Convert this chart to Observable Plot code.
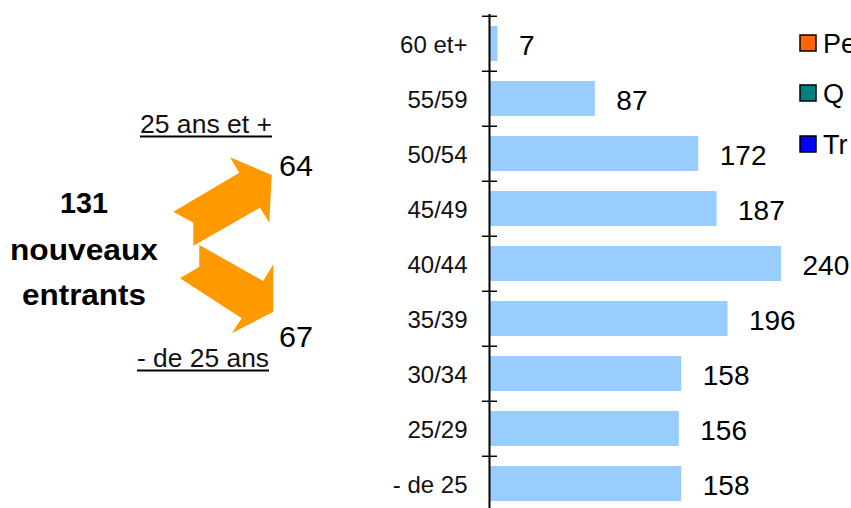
<!DOCTYPE html>
<html>
<head>
<meta charset="utf-8">
<script src="https://cdn.jsdelivr.net/npm/d3@7"></script>
<script src="https://cdn.jsdelivr.net/npm/@observablehq/plot@0.6"></script>
<style>
  html, body { margin: 0; padding: 0; background: #fff; overflow: hidden; }
  #wrap { position: relative; width: 851px; height: 508px; font-family: "Liberation Sans", Arial, sans-serif; }
  #wrap > svg { position: absolute; left: 0; top: 0; }
</style>
</head>
<body>
<div id="wrap"></div>
<script>
// ---- data ----
const categories = ["60 et+", "55/59", "50/54", "45/49", "40/44", "35/39", "30/34", "25/29", "- de 25"];
const values = [7, 87, 172, 187, 240, 196, 158, 156, 158];
const legendLabels = ["Pe", "Q", "Tr"];
const legendColors = ["#FF6600", "#008080", "#0000FF"];
const totalLabel = ["131", "nouveaux", "entrants"];
const splitLabels = ["25 ans et +", "- de 25 ans"];
const splitValues = [64, 67];

const data = categories.map((c, i) => ({cat: c, value: values[i]}));

const step = 499 / 9;

const chart = Plot.plot({
  width: 851,
  height: 508,
  marginLeft: 489,
  marginRight: 0,
  marginTop: 14,
  marginBottom: 0,
  style: {fontFamily: "'Liberation Sans', Arial, sans-serif", background: "transparent", overflow: "visible"},
  x: {domain: [0, 240], range: [489, 781], axis: null},
  y: {domain: categories, range: [14, 513], paddingInner: 0.37, paddingOuter: 0.185, align: 0.5, axis: null},
  marks: [
    Plot.barX(data, {x: "value", y: "cat", fill: "#99CCFF"}),
    Plot.ruleX([0], {stroke: "black", strokeWidth: 2}),
    Plot.ruleY(categories, {y: d => d, x1: -5.8, x2: 6.6, dy: -step / 2, stroke: "black", strokeWidth: 1.5}),
    Plot.text(categories, {y: d => d, x: () => 0, text: d => d, dx: -22, dy: 1, textAnchor: "end", fontSize: 24, fill: "#111"}),
    Plot.text(data, {x: "value", y: "cat", text: d => String(d.value), dx: 21, dy: 2, textAnchor: "start", fontSize: 28, fill: "#000"})
  ]
});
document.getElementById("wrap").appendChild(chart);

// ---- annotation overlay (left block + legend) ----
const svg = d3.select("#wrap").append("svg")
  .attr("width", 851).attr("height", 508)
  .style("font-family", "'Liberation Sans', Arial, sans-serif");

const arrowUp = [[173.3,211.7],[239.3,172.7],[230,157.3],[271.7,175],[269.3,222.7],[260,207.7],[193.3,245.7],[193.3,222.7]];
const arrowDown = [[199.3,245],[263.3,281],[273.3,264.3],[273.3,311.7],[231.7,333.3],[241.7,318.3],[180,278.3],[199.3,266.7]];
[arrowUp, arrowDown].forEach(p => {
  svg.append("polygon").attr("points", p.map(q => q.join(",")).join(" ")).attr("fill", "#FF9900");
});

// total label (bold)
const totalY = [213, 260, 305];
const totalLen = [48, 148, 124];
totalLabel.forEach((t, i) => {
  svg.append("text").attr("x", 84).attr("y", totalY[i]).attr("text-anchor", "middle")
    .attr("font-weight", "bold").attr("font-size", 29)
    .attr("textLength", totalLen[i]).attr("lengthAdjust", "spacingAndGlyphs")
    .text(t);
});

// split labels (underlined)
const splitPos = [{x: 140, y: 133, len: 132}, {x: 137, y: 367, len: 132}];
splitLabels.forEach((t, i) => {
  const p = splitPos[i];
  svg.append("text").attr("x", p.x).attr("y", p.y).attr("font-size", 25)
    .attr("textLength", p.len).attr("lengthAdjust", "spacingAndGlyphs").attr("fill", "#111").text(t);
  svg.append("line").attr("x1", p.x).attr("x2", p.x + p.len).attr("y1", p.y + 3.5).attr("y2", p.y + 3.5)
    .attr("stroke", "#000").attr("stroke-width", 2);
});

const splitValY = [176, 347];
splitValues.forEach((v, i) => {
  svg.append("text").attr("x", 279).attr("y", splitValY[i]).attr("font-size", 30)
    .attr("textLength", 34).attr("lengthAdjust", "spacingAndGlyphs").text(String(v));
});

// legend (cut off at right edge, as in the reference)
const legY = [35, 85, 136];
legendLabels.forEach((t, i) => {
  svg.append("rect").attr("x", 800).attr("y", legY[i]).attr("width", 16).attr("height", 16)
    .attr("fill", legendColors[i]).attr("stroke", "#000").attr("stroke-width", 1.5);
  svg.append("text").attr("x", 823).attr("y", legY[i] + 18).attr("font-size", 27).text(t);
});
</script>
</body>
</html>
